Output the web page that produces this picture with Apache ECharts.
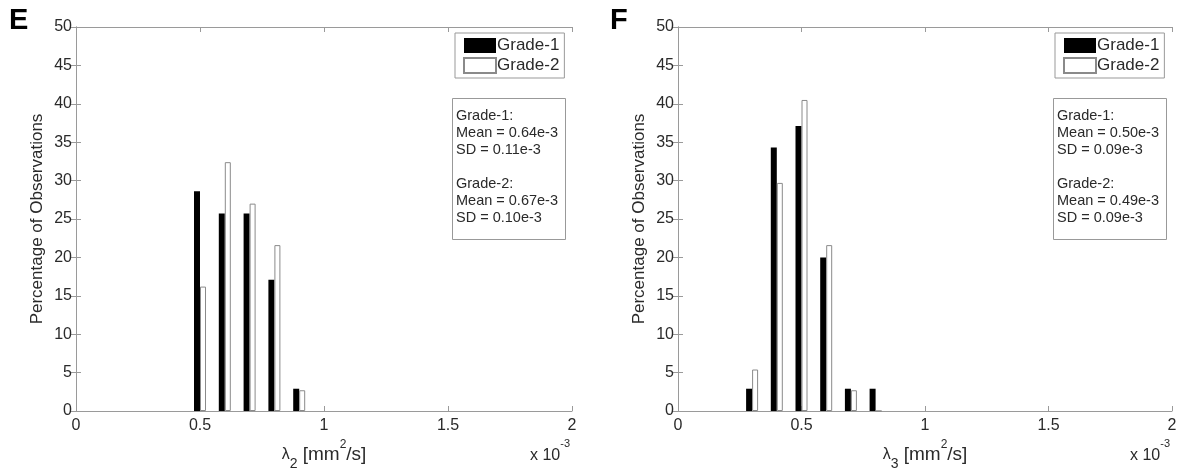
<!DOCTYPE html>
<html><head><meta charset="utf-8">
<script src="https://cdn.jsdelivr.net/npm/echarts@6/dist/echarts.min.js"></script>
<style>html,body{margin:0;padding:0;background:#fff}#c{width:1184px;height:472px}</style>
</head><body><div id="c"></div>
<script>
// Data (x in units of 1e-3 mm^2/s, y in % of observations)
const binsE = [0.5, 0.6, 0.7, 0.8, 0.9];
const grade1E = [28.6, 25.7, 25.7, 17.1, 2.9];
const grade2E = [16.2, 32.4, 27.0, 21.6, 2.7];
const binsF = [0.3, 0.4, 0.5, 0.6, 0.7, 0.8];
const grade1F = [2.9, 34.3, 37.1, 20.0, 2.9, 2.9];
const grade2F = [5.4, 29.7, 40.5, 21.6, 2.7, 0];
const statsE = "Grade-1:\nMean = 0.64e-3\nSD = 0.11e-3\n\nGrade-2:\nMean = 0.67e-3\nSD = 0.10e-3";
const statsF = "Grade-1:\nMean = 0.50e-3\nSD = 0.09e-3\n\nGrade-2:\nMean = 0.49e-3\nSD = 0.09e-3";
const seriesNames = ["Grade-1", "Grade-2"];

const FONT = '"Liberation Sans", Arial, sans-serif';
const AX = '#9a9a9a';
const TXT = '#2a2a2a';
const pair = (xs, ys) => xs.map((x, i) => [x, ys[i]]);

const grids = [
  {left: 76, right: 612, top: 27, bottom: 61, containLabel: false, outerBoundsMode: 'none'},
  {left: 678, right: 12, top: 27, bottom: 61, containLabel: false, outerBoundsMode: 'none'}
];
const xAxes = [], yAxes = [];
const rich = {
  b: {fontSize: 19, fontFamily: FONT, color: TXT, verticalAlign: 'middle'},
  l: {fontSize: 16, fontFamily: FONT, color: TXT, verticalAlign: 'middle'},
  sub: {fontSize: 14, fontFamily: FONT, color: TXT, verticalAlign: 'bottom'},
  sup: {fontSize: 12, fontFamily: FONT, color: TXT, verticalAlign: 'top'}
};
const xNames = ['{l|λ}{sub|2}{b| [mm}{sup|2}{b|/s]}', '{l|λ}{sub|3}{b| [mm}{sup|2}{b|/s]}'];
[0, 1].forEach(g => {
  xAxes.push({
    gridIndex: g, type: 'value', min: 0, max: 2, interval: 0.5, position: 'bottom',
    axisLine: {onZero: false, lineStyle: {color: AX}},
    axisTick: {inside: true, length: 5, lineStyle: {color: AX}},
    splitLine: {show: false},
    axisLabel: {color: TXT, fontSize: 16, fontFamily: FONT, margin: 7,
      formatter: v => String(v)},
    name: xNames[g], nameLocation: 'middle', nameGap: 28,
    nameTextStyle: {rich: rich, fontSize: 19, lineHeight: 32, height: 32}
  });
  xAxes.push({
    gridIndex: g, type: 'value', min: 0, max: 2, interval: 0.5, position: 'top',
    axisLine: {onZero: false, lineStyle: {color: AX}},
    axisTick: {inside: true, length: 5, lineStyle: {color: AX}},
    axisLabel: {show: false}, splitLine: {show: false}
  });
  yAxes.push({
    gridIndex: g, type: 'value', min: 0, max: 50, interval: 5, position: 'left',
    axisLine: {show: true, lineStyle: {color: AX}},
    axisTick: {show: true, inside: true, length: 5, lineStyle: {color: AX}},
    splitLine: {show: false},
    axisLabel: {color: TXT, fontSize: 16, fontFamily: FONT, margin: 4},
    name: 'Percentage of Observations', nameLocation: 'middle', nameGap: 30,
    nameRotate: 90,
    nameTextStyle: {color: TXT, fontSize: 17, fontFamily: FONT}
  });
  yAxes.push({
    gridIndex: g, type: 'value', min: 0, max: 50, interval: 5, position: 'right',
    axisLine: {show: true, lineStyle: {color: AX}},
    axisTick: {show: true, inside: true, length: 5, lineStyle: {color: AX}},
    axisLabel: {show: false}, splitLine: {show: false}
  });
});

function bars(g, name, data, white) {
  return {
    type: 'bar', name: name, xAxisIndex: g * 2, yAxisIndex: g * 2,
    data: data, barWidth: 6, barGap: '0%',
    itemStyle: white ? {color: '#fff', borderColor: '#8a8a8a', borderWidth: 1}
                     : {color: '#000', borderColor: '#000', borderWidth: 0},
    emphasis: {disabled: true}
  };
}
const series = [
  bars(0, seriesNames[0], pair(binsE, grade1E), false),
  bars(0, seriesNames[1], pair(binsE, grade2E), true),
  bars(1, seriesNames[0], pair(binsF, grade1F), false),
  bars(1, seriesNames[1], pair(binsF, grade2F), true)
];

function legend(left) {
  return {
    left: left, top: 33, orient: 'vertical', data: seriesNames,
    icon: 'rect', itemWidth: 32, itemHeight: 15, itemGap: 3,
    padding: [4, 5, 4, 8], borderColor: '#999', borderWidth: 1,
    backgroundColor: '#fff', selectedMode: false,
    textStyle: {fontSize: 17, fontFamily: FONT, color: TXT, padding: [0, 0, 0, -4]}
  };
}
function statBox(left, text) {
  return {
    text: text, left: left, top: 98, borderColor: '#999', borderWidth: 1,
    padding: [9, 8, 14, 4],
    textStyle: {fontSize: 14.5, fontWeight: 'normal', fontFamily: FONT, color: TXT, lineHeight: 17}
  };
}
const xTimes = {a: {fontSize: 16, fontFamily: FONT, fill: TXT, verticalAlign: 'bottom', lineHeight: 26}, s: {fontSize: 11, fontFamily: FONT, fill: TXT, verticalAlign: 'top', lineHeight: 26}};

const chart = echarts.init(document.getElementById('c'), null, {renderer: 'canvas'});
chart.setOption({
  animation: false,
  backgroundColor: '#fff',
  grid: grids,
  xAxis: xAxes,
  yAxis: yAxes,
  series: series,
  legend: [legend(455), legend(1055)],
  title: [statBox(452, statsE), statBox(1053, statsF)],
  graphic: [
    {type: 'text', left: 9, top: 6, style: {text: 'E', fontSize: 29, fontWeight: 'bold', fontFamily: FONT, fill: '#000'}},
    {type: 'text', left: 610, top: 6, style: {text: 'F', fontSize: 29, fontWeight: 'bold', fontFamily: FONT, fill: '#000'}},
    {type: 'text', left: 530, top: 438, style: {text: '{a|x 10}{s|-3}', rich: xTimes}},
    {type: 'text', left: 1130, top: 438, style: {text: '{a|x 10}{s|-3}', rich: xTimes}}
  ]
});
</script></body></html>
